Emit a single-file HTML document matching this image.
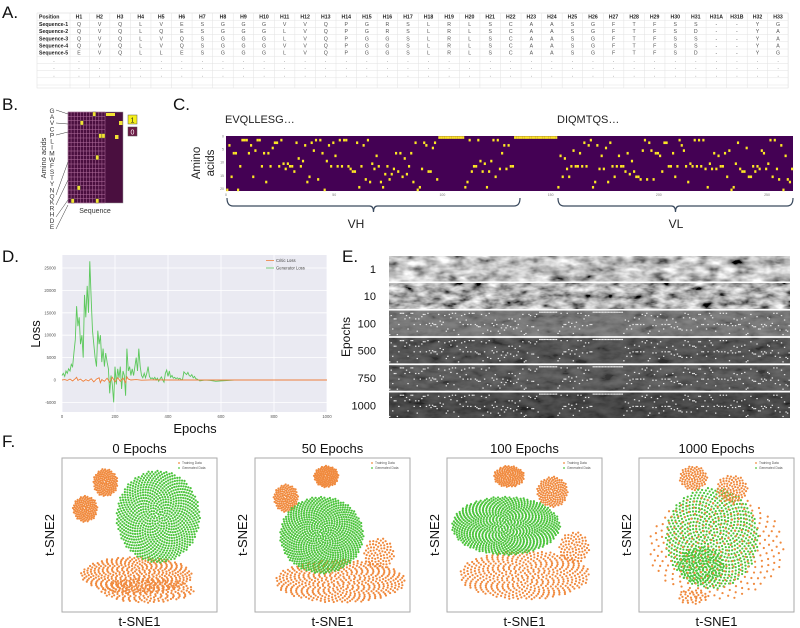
<!DOCTYPE html>
<html><head><meta charset="utf-8"><style>
body{margin:0;background:#fff;width:800px;height:628px;overflow:hidden;font-family:"Liberation Sans",sans-serif}
svg{display:block}
</style></head><body>
<svg id="fig" width="800" height="628" viewBox="0 0 800 628" xmlns="http://www.w3.org/2000/svg" font-family="Liberation Sans, sans-serif">
<defs>
<filter id="noiseA" x="0" y="0" width="100%" height="100%"><feTurbulence type="fractalNoise" baseFrequency="0.06 0.12" numOctaves="3" seed="3"/><feColorMatrix type="matrix" values="0.33 0.33 0.33 0 0 0.33 0.33 0.33 0 0 0.33 0.33 0.33 0 0 0 0 0 0 1"/><feComponentTransfer><feFuncR type="linear" slope="2.6" intercept="-0.75"/><feFuncG type="linear" slope="2.6" intercept="-0.75"/><feFuncB type="linear" slope="2.6" intercept="-0.75"/></feComponentTransfer></filter>
<filter id="noiseB" x="0" y="0" width="100%" height="100%"><feTurbulence type="fractalNoise" baseFrequency="0.07 0.15" numOctaves="3" seed="9"/><feColorMatrix type="matrix" values="0.33 0.33 0.33 0 0 0.33 0.33 0.33 0 0 0.33 0.33 0.33 0 0 0 0 0 0 1"/><feComponentTransfer><feFuncR type="linear" slope="2.6" intercept="-0.85"/><feFuncG type="linear" slope="2.6" intercept="-0.85"/><feFuncB type="linear" slope="2.6" intercept="-0.85"/></feComponentTransfer></filter>
</defs>
<g font-size="17" fill="#111">
<text x="2" y="18">A.</text><text x="2" y="110">B.</text><text x="173" y="110">C.</text>
<text x="2" y="262">D.</text><text x="342" y="262">E.</text><text x="2" y="447">F.</text>
</g>
<g id="tableA"></g>
<g id="panelB"></g>
<g id="panelC"></g>
<g id="panelD"></g>
<g id="panelE"></g>
<g id="panelF"></g>
</svg>
<script>
// ---------- data ----------
const tableCols = ["H1","H2","H3","H4","H5","H6","H7","H8","H9","H10","H11","H12","H13","H14","H15","H16","H17","H18","H19","H20","H21","H22","H23","H24","H25","H26","H27","H28","H29","H30","H31","H31A","H31B","H32","H33"];
const tableRows = [
 ["Sequence-1","QVQLVESGGGVVQPGRSLRLSCAASGFTFSS--YG"],
 ["Sequence-2","QVQLQESGGGLVQPGRSLRLSCAASGFTFSD--YA"],
 ["Sequence-3","QVQLVQSGGGLVQPGGSLRLSCAASGFTFSS--YA"],
 ["Sequence-4","QVQLVQSGGGVVQPGGSLRLSCAASGFTFSS--YA"],
 ["Sequence-5","EVQLLESGGGLVQPGGSLRLSCAASGFTFSD--YG"]
];
const aaOrder = "-GAVCPLIMWFSTYNQKRHDE";
const vhSeq = "EVQLLESGGGLVQPGGSLRLSCAASGFTFSSYAMSWVRQAPGKGLEWVSAISGSGGSTYYADSVKGRFTISRDNSKNTLYLQMNSLRAEDTAVYYCAK------------DRGYSSGWYFDYWGQGTLVTVSS";
const linkerSeq = "--------------------";
const vlSeq = "DIQMTQSPSSLSASVGDRVTITCRASQSISSYLNWYQQKPGKAPKLLIYAASSLQSGVPSRFSGSGSGTDFTLTISSLQPEDFATYYCQQSYSTPLTFGQGTKVEIKRT";
const xTickC = [0,50,100,150,200,250];
const yTickC = [0,5,10,15,20];

const lossEpochs = [0,5,10,15,20,25,30,35,40,45,50,55,60,65,70,75,80,85,90,95,100,105,110,115,120,125,130,135,140,145,150,155,160,165,170,175,180,185,190,195,200,205,210,215,220,225,230,235,240,245,250,255,260,265,270,275,280,285,290,295,300,305,310,315,320,325,330,335,340,345,350,355,360,365,370,375,380,385,390,395,400,405,410,415,420,425,430,435,440,445,450,455,460,465,470,475,480,485,490,495,500,505,510,515,520,530,540,560,580,600,650,700,800,900,1000];
const generatorLoss = [1000,1500,800,2000,1500,2500,2000,3500,3000,6000,9000,16500,12000,14000,8000,10000,5000,19000,14000,21000,15000,26500,18000,11000,8000,5000,3000,11000,8000,10000,4000,7000,3000,6000,4000,2500,-3000,1000,-1000,-5000,3000,-1000,2500,500,3000,-2000,2000,1000,-3500,7000,2000,3000,1000,2500,1000,3000,5000,2000,7000,3000,1000,500,1500,500,1500,3000,800,300,500,200,600,0,400,-300,300,700,0,-500,1500,2200,800,2000,600,1000,400,600,300,500,200,400,0,200,1800,1500,1200,1700,1000,800,1200,500,800,300,200,0,-200,-100,0,-100,-300,-200,0,0,0,0,0];
const criticEpochs = [0,10,20,30,40,50,55,60,70,80,90,100,110,120,130,140,145,150,160,170,180,190,200,210,220,230,240,245,250,260,280,300,350,400,500,600,800,1000];
const criticLoss = [0,100,-100,200,-200,300,600,-100,200,-300,100,-200,300,-400,200,500,-600,100,-300,400,-500,600,-400,500,-300,400,-600,700,200,0,100,-50,50,0,0,0,0,0];
const yTickD = [-5000,0,5000,10000,15000,20000,25000];
const xTickD = [0,200,400,600,800,1000];

const epochLabels = ["1","10","100","500","750","1000"];
const epochBg = ["#8a8a8a","#707070","#6a6a6a","#3c3c3c","#444444","#2e2e2e"];

const tsneTitles = ["0 Epochs","50 Epochs","100 Epochs","1000 Epochs"];
const trainClusters = [
 [[0.28,0.16,0.08,0.09,140],[0.15,0.33,0.08,0.085,130],[0.48,0.76,0.36,0.12,420],[0.55,0.86,0.3,0.08,200]],
 [[0.46,0.12,0.08,0.07,130],[0.2,0.26,0.08,0.09,130],[0.55,0.80,0.42,0.14,480],[0.8,0.62,0.1,0.1,80]],
 [[0.4,0.12,0.1,0.07,140],[0.68,0.22,0.1,0.1,150],[0.5,0.76,0.42,0.16,480],[0.82,0.58,0.1,0.1,80]],
 [[0.35,0.13,0.09,0.08,150],[0.6,0.2,0.1,0.09,150],[0.5,0.58,0.44,0.34,500],[0.35,0.9,0.1,0.05,60]]
];
const genClusters = [
 [[0.62,0.38,0.27,0.30,900]],
 [[0.43,0.5,0.27,0.25,900]],
 [[0.38,0.44,0.35,0.19,900]],
 [[0.47,0.52,0.3,0.33,700],[0.4,0.7,0.15,0.12,150]]
];
const tsneBoxX = [62,255,447,639];

// ---------- helpers ----------
const NS="http://www.w3.org/2000/svg";
function mk(tag,attrs,parent,txt){const e=document.createElementNS(NS,tag);for(const k in attrs)e.setAttribute(k,attrs[k]);if(txt!==undefined)e.textContent=txt;parent.appendChild(e);return e;}

// ---------- A: table ----------
(function(){
 const g=document.getElementById('tableA');
 const x0=37,colW=20.56,firstC=79,y0=13,rowH=7.2,nRows=10;
 const right=firstC+colW*34+10;
 mk('rect',{x:x0,y:y0,width:right-x0,height:rowH*nRows+3,fill:'#fff',stroke:'#ddd','stroke-width':0.5},g);
 for(let r=0;r<=nRows;r++){mk('line',{x1:x0,x2:right,y1:y0+r*rowH,y2:y0+r*rowH,stroke:'#e2e2e2','stroke-width':0.5},g);}
 for(let c=0;c<=35;c++){const x=c===0?x0:firstC-colW/2+(c-1)*colW+colW;mk('line',{x1:c===0?x0+33:x,x2:c===0?x0+33:x,y1:y0,y2:y0+rowH*nRows+3,stroke:'#e2e2e2','stroke-width':0.5},g);}
 const hdr=mk('text',{x:x0+2,y:y0+rowH-1.5,'font-size':5.2,'font-weight':'bold',fill:'#222'},g,'Position');
 
 tableCols.forEach((c,i)=>{const t=mk('text',{x:firstC+i*colW,y:y0+rowH-1.5,'font-size':5.2,'font-weight':'bold','text-anchor':'middle',fill:'#222'},g,c);
  });
 for(let r=0;r<nRows-1;r++){
  const y=y0+(r+2)*rowH-1.5;
  if(r<tableRows.length){
   const rowLabel=mk('text',{x:x0+2,y:y,'font-size':5.2,'font-weight':'bold',fill:'#222'},g,tableRows[r][0]);
   
   const s=tableRows[r][1];
   for(let i=0;i<tableCols.length;i++){mk('text',{x:firstC+i*colW,y:y,'font-size':5.2,'text-anchor':'middle',fill:'#555'},g,s[i]||'-');}
  } else if(r<8){
   mk('text',{x:x0+17,y:y,'font-size':5.2,'text-anchor':'middle',fill:'#555'},g,'.');
   for(let i=0;i<tableCols.length;i++){mk('text',{x:firstC+i*colW,y:y,'font-size':5.2,'text-anchor':'middle',fill:'#555'},g,'.');}
  }
 }
})();

// ---------- B ----------
(function(){
 const g=document.getElementById('panelB');
 const x0=68,y0=112,w=55,h=91,nc=12,nr=21,cw=37/nc,rh=h/nr;
 mk('rect',{x:x0,y:y0,width:w,height:h,fill:'#4a0f3f',stroke:'#999','stroke-width':0.5},g);
 for(let c=0;c<=nc;c++)mk('line',{x1:x0+c*cw,x2:x0+c*cw,y1:y0,y2:y0+h,stroke:'#b2709f','stroke-width':0.5},g);
 for(let r=0;r<=nr;r++)mk('line',{x1:x0,x2:x0+37,y1:y0+r*rh,y2:y0+r*rh,stroke:'#b2709f','stroke-width':0.5},g);
 const cells=[[8,0],[4,2],[10,5],[11,5],[9,10],[3,17],[9,20],[1,20]];
 cells.forEach(([c,r])=>mk('rect',{x:x0+c*cw,y:y0+r*rh,width:cw,height:rh,fill:'#f2e234',stroke:'#333','stroke-width':0.3},g));
 mk('rect',{x:106,y:113,width:9,height:3,fill:'#f2e234'},g);
 mk('rect',{x:119,y:121,width:3.5,height:4,fill:'#f2e234'},g);
 mk('rect',{x:115,y:135,width:3.5,height:4,fill:'#f2e234'},g);
 const l1=mk('rect',{x:128,y:115,width:9,height:9,fill:'#f5ef1a',stroke:'#555','stroke-width':0.5},g);
 
 mk('text',{x:132.5,y:122.5,'font-size':7,'text-anchor':'middle',fill:'#222'},g,'1');
 const l0=mk('rect',{x:128,y:127,width:9,height:9,fill:'#6b1a45',stroke:'#555','stroke-width':0.5},g);
 
 mk('text',{x:132.5,y:134.5,'font-size':7,'text-anchor':'middle',fill:'#fff'},g,'0');
 const letters="GAVCPLIMWFSTYNQKRHDE";
 for(let i=0;i<letters.length;i++)mk('text',{x:52,y:113+i*6.1,'font-size':6.5,fill:'#333','text-anchor':'middle'},g,letters[i]);
 [[56,110,68,114],[56,123,68,124],[56,135,68,132],[56,195,68,162],[56,205,68,180],[56,217,68,200],[56,229,68,205]].forEach(a=>mk('line',{x1:a[0],y1:a[1],x2:a[2],y2:a[3],stroke:'#333','stroke-width':0.5},g));
 const al=mk('text',{x:0,y:0,'font-size':7.5,fill:'#333','text-anchor':'middle',transform:'translate(46,158) rotate(-90)'},g,'Amino acids');
 
 const sl=mk('text',{x:95,y:213,'font-size':7,fill:'#333','text-anchor':'middle'},g,'Sequence');
 
})();

// ---------- C ----------
const fullSeq = vhSeq+linkerSeq+vlSeq;
(function(){
 const g=document.getElementById('panelC');
 const x0=226,x1=793,y0=136,y1=191;
 const cw=(x1-x0)/fullSeq.length, rh=(y1-y0)/aaOrder.length;
 const xs=i=>x0+i*cw, ys=r=>y0+r*rh;
 mk('rect',{x:x0,y:y0,width:x1-x0,height:y1-y0,fill:'#440154'},g);
 for(let i=0;i<fullSeq.length;i++){
  const r=aaOrder.indexOf(fullSeq[i]); if(r<0)continue;
  const cell=mk('rect',{x:xs(i)+0.2,y:ys(r)+0.2,width:cw,height:rh,fill:'#fde725'},g);
  
 }
 xTickC.forEach(t=>mk('text',{x:xs(t),y:y1+5,'font-size':3.5,fill:'#777','text-anchor':'middle'},g,t));
 yTickC.forEach(t=>mk('text',{x:x0-2,y:ys(t)+1.5,'font-size':3.5,fill:'#777','text-anchor':'end'},g,t));
 mk('text',{x:225,y:123,'font-size':11,fill:'#222'},g,'EVQLLESG\u2026');
 mk('text',{x:557,y:123,'font-size':11,fill:'#222'},g,'DIQMTQS\u2026');
 const t1=mk('text',{x:0,y:0,'font-size':11.5,fill:'#222','text-anchor':'middle',transform:'translate(200,163) rotate(-90)'},g,'Amino');
 
 mk('text',{x:0,y:0,'font-size':11.5,fill:'#222','text-anchor':'middle',transform:'translate(214,163) rotate(-90)'},g,'acids');
 const brace=(a,b)=>{const m=(a+b)/2;return `M${a},198 Q${a},206 ${a+6},206 L${m-4},206 Q${m},206 ${m},212 Q${m},206 ${m+4},206 L${b-6},206 Q${b},206 ${b},198`;};
 const b1=mk('path',{d:brace(227,520),fill:'none',stroke:'#3a4a5e','stroke-width':1.2},g); 
 const b2=mk('path',{d:brace(558,793),fill:'none',stroke:'#3a4a5e','stroke-width':1.2},g); 
 mk('text',{x:356,y:228,'font-size':12,fill:'#222','text-anchor':'middle'},g,'VH');
 mk('text',{x:676,y:228,'font-size':12,fill:'#222','text-anchor':'middle'},g,'VL');
})();

// ---------- D ----------
(function(){
 const g=document.getElementById('panelD');
 const px0=62,px1=327,py0=255,py1=412;
 const xs=v=>px0+(v/1000)*(px1-px0);
 const ys=v=>380-(v/25000)*112;
 mk('rect',{x:px0,y:py0,width:px1-px0,height:py1-py0,fill:'#eaeaf2'},g);
 yTickD.forEach(t=>{mk('line',{x1:px0,x2:px1,y1:ys(t),y2:ys(t),stroke:'#fff','stroke-width':0.8},g);
  mk('text',{x:px0-6,y:ys(t)+1.5,'font-size':4.2,fill:'#555','text-anchor':'end'},g,t);});
 xTickD.forEach(t=>{mk('line',{x1:xs(t),x2:xs(t),y1:py0,y2:py1,stroke:'#fff','stroke-width':0.8},g);
  mk('text',{x:xs(t),y:py1+6,'font-size':4.2,fill:'#555','text-anchor':'middle'},g,t);});
 const path=(xa,ya)=>xa.map((x,i)=>(i?'L':'M')+xs(x).toFixed(1)+','+ys(ya[i]).toFixed(1)).join(' ');
 const gl=mk('path',{d:path(lossEpochs,generatorLoss),fill:'none',stroke:'#5cc85c','stroke-width':0.9},g);
 
 const cl=mk('path',{d:path(criticEpochs,criticLoss),fill:'none',stroke:'#ee7f3c','stroke-width':0.9},g);
 
 const lg=mk('g',{},g); 
 mk('line',{x1:266,x2:274,y1:260.5,y2:260.5,stroke:'#ee7f3c','stroke-width':0.8},lg);
 mk('text',{x:276,y:262,'font-size':4.2,fill:'#444'},lg,'Critic Loss');
 mk('line',{x1:266,x2:274,y1:268,y2:268,stroke:'#5cc85c','stroke-width':0.8},lg);
 mk('text',{x:276,y:269.5,'font-size':4.2,fill:'#444'},lg,'Generator Loss');
 const yl=mk('text',{x:0,y:0,'font-size':13,fill:'#111','text-anchor':'middle',transform:'translate(40,334) rotate(-90)'},g,'Loss');
 
 const xl=mk('text',{x:195,y:433,'font-size':13,fill:'#111','text-anchor':'middle'},g,'Epochs');
 
})();

// ---------- E ----------
(function(){
 const g=document.getElementById('panelE');
 const x0=389,x1=790,top=256,h=25.5,gap=1.8;
 const cw=(x1-x0)/fullSeq.length, rh=(h-2)/aaOrder.length;
 epochLabels.forEach((lab,k)=>{
  const y=top+k*(h+gap);
  const strip=mk('g',{},g); 
  mk('rect',{x:x0,y:y,width:x1-x0,height:h,fill:epochBg[k]},strip);
  if(k<2){mk('rect',{x:x0,y:y,width:x1-x0,height:h,filter:k===0?'url(#noiseA)':'url(#noiseB)',opacity:1},strip);}
  else{
   mk('rect',{x:x0,y:y,width:x1-x0,height:h,filter:'url(#noiseB)',opacity:0.2},strip);
   for(let i=0;i<fullSeq.length;i++){const r=aaOrder.indexOf(fullSeq[i]);if(r<0)continue;
    mk('rect',{x:x0+i*cw,y:y+1+r*rh,width:1.4,height:1.2,fill:'#e8e8e8'},strip);}
  }
  mk('text',{x:376,y:y+h/2+4,'font-size':11,fill:'#111','text-anchor':'end'},g,lab);
 });
 const el=mk('text',{x:0,y:0,'font-size':12,fill:'#111','text-anchor':'middle',transform:'translate(350,337) rotate(-90)'},g,'Epochs');
 
})();

// ---------- F ----------
(function(){
 const g=document.getElementById('panelF');
 const by0=458,bw=155,bh=154, GA=2.39996;
 tsneTitles.forEach((title,p)=>{
  const bx=tsneBoxX[p];
  const pg=mk('g',{},g); 
  mk('rect',{x:bx,y:by0,width:bw,height:bh,fill:'#fff',stroke:'#aaa','stroke-width':1},pg);
  const drawCluster=(c,col)=>{const [cx,cy,rx,ry,n]=c;
   for(let i=0;i<n;i++){const rr=Math.sqrt((i+0.5)/n),a=i*GA;
    mk('circle',{cx:bx+(cx+rx*rr*Math.cos(a))*bw,cy:by0+(cy+ry*rr*Math.sin(a))*bh,r:1.1,fill:col},pg);}};
  if(p===3){genClusters[p].forEach(c=>drawCluster(c,'#4cc43c'));trainClusters[p].forEach(c=>drawCluster([c[0],c[1],c[2],c[3],Math.round(c[4]*0.6)],'#f08a3e'));}
  else{trainClusters[p].forEach(c=>drawCluster(c,'#f08a3e'));genClusters[p].forEach(c=>drawCluster(c,'#4cc43c'));}
  const lg=mk('g',{},pg); 
  mk('circle',{cx:bx+bw-38,cy:by0+5,r:0.9,fill:'#f08a3e'},lg);
  mk('text',{x:bx+bw-35,y:by0+6.2,'font-size':3.3,fill:'#555'},lg,'Training Data');
  mk('circle',{cx:bx+bw-38,cy:by0+10,r:0.9,fill:'#4cc43c'},lg);
  mk('text',{x:bx+bw-35,y:by0+11.2,'font-size':3.3,fill:'#555'},lg,'Generated Data');
  mk('text',{x:bx+bw/2,y:by0-5,'font-size':13,fill:'#111','text-anchor':'middle'},pg,title);
  mk('text',{x:bx+bw/2,y:by0+bh+14,'font-size':13,fill:'#111','text-anchor':'middle'},pg,'t-SNE1');
  mk('text',{x:0,y:0,'font-size':13,fill:'#111','text-anchor':'middle',transform:`translate(${bx-8},${by0+bh/2}) rotate(-90)`},pg,'t-SNE2');
 });
})();
</script>
</body></html>
